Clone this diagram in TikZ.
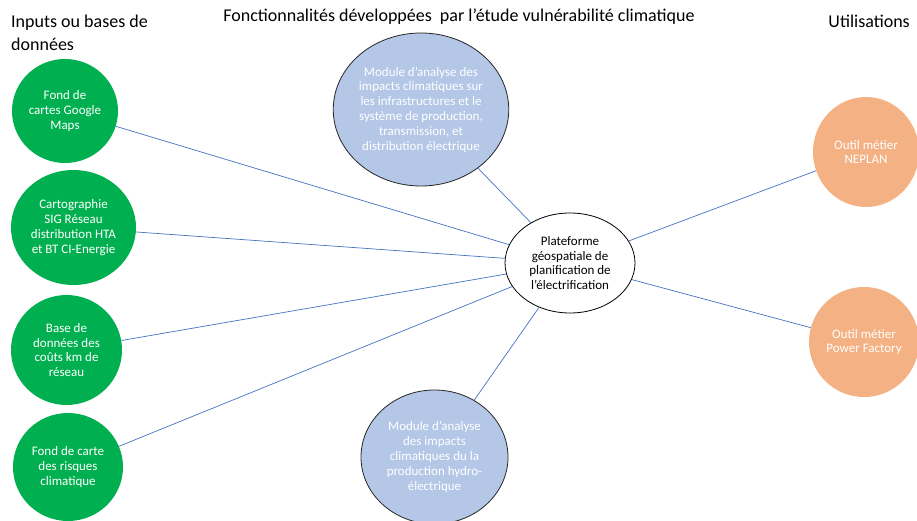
\documentclass[tikz,border=0pt]{standalone}
\usepackage{fontspec}
\setmainfont{Carlito}
\usetikzlibrary{shapes.geometric}
\definecolor{cgreen}{HTML}{00B050}
\definecolor{cblue}{HTML}{B4C7E7}
\definecolor{corange}{HTML}{F4B183}
\definecolor{cline}{HTML}{4472C4}
\begin{document}
\begin{tikzpicture}[x=1pt,y=-1pt,
  circ/.style={ellipse,inner sep=0pt,align=center,font=\fontsize{13}{14.8}\selectfont},
  green/.style={circ,fill=cgreen,text=white},
  bluec/.style={circ,fill=cblue,draw=black!85,line width=0.8pt,text=white},
  orangec/.style={circ,fill=corange,text=white},
  hub/.style={circ,fill=white,draw=black,line width=0.8pt,text=black},
  link/.style={draw=cline,line width=0.7pt},
  title/.style={font=\fontsize{18}{22.5}\selectfont,inner sep=0pt}]
\useasboundingbox[fill=white] (0,0) rectangle (917,521);
% titles
\node[title,anchor=north west,align=left] (tin) at (11,15) {Inputs ou bases de\\données};
\node[title,anchor=north] (tfun) at (459,9) {Fonctionnalités développées \ par l’étude vulnérabilité climatique};
\node[title,anchor=north east] (tuse) at (910,15) {Utilisations};
% hub
\node[hub,minimum width=130pt,minimum height=100pt] (hub) at (570,263) {Plateforme\\géospatiale de\\planification de\\l’électrification};
% inputs
\node[green,minimum width=106pt,minimum height=104pt] (g1) at (65,111) {Fond de\\cartes Google\\Maps};
\node[green,minimum width=125pt,minimum height=115pt] (g2) at (73.5,227.5) {Cartographie\\SIG Réseau\\distribution HTA\\et BT CI-Energie};
\node[green,minimum width=111pt,minimum height=110pt] (g3) at (66.5,350) {Base de\\données des\\coûts km de\\réseau};
\node[green,minimum width=110pt,minimum height=108pt] (g4) at (68,467) {Fond de carte\\des risques\\climatique};
% modules
\node[bluec,minimum width=158pt,minimum height=153pt] (m1) at (421,109.5) {Module d’analyse des\\impacts climatiques sur\\les infrastructures et le\\système de production,\\transmission, et\\distribution électrique};
\node[bluec,minimum width=147pt,minimum height=134pt] (m2) at (434.5,457) {Module d’analyse\\des impacts\\climatiques du la\\production hydro-\\électrique};
% uses
\node[orangec,minimum width=106pt,minimum height=110pt] (u1) at (866,152) {Outil métier\\NEPLAN};
\node[orangec,minimum width=110pt,minimum height=110pt] (u2) at (864,342) {Outil métier\\Power Factory};
% links
\draw[link] (g1) -- (hub);
\draw[link] (g2) -- (hub);
\draw[link] (g3) -- (hub);
\draw[link] (g4) -- (hub);
\draw[link] (m1) -- (hub);
\draw[link] (m2) -- (hub);
\draw[link] (hub) -- (u1);
\draw[link] (hub) -- (u2);
\end{tikzpicture}
\end{document}
